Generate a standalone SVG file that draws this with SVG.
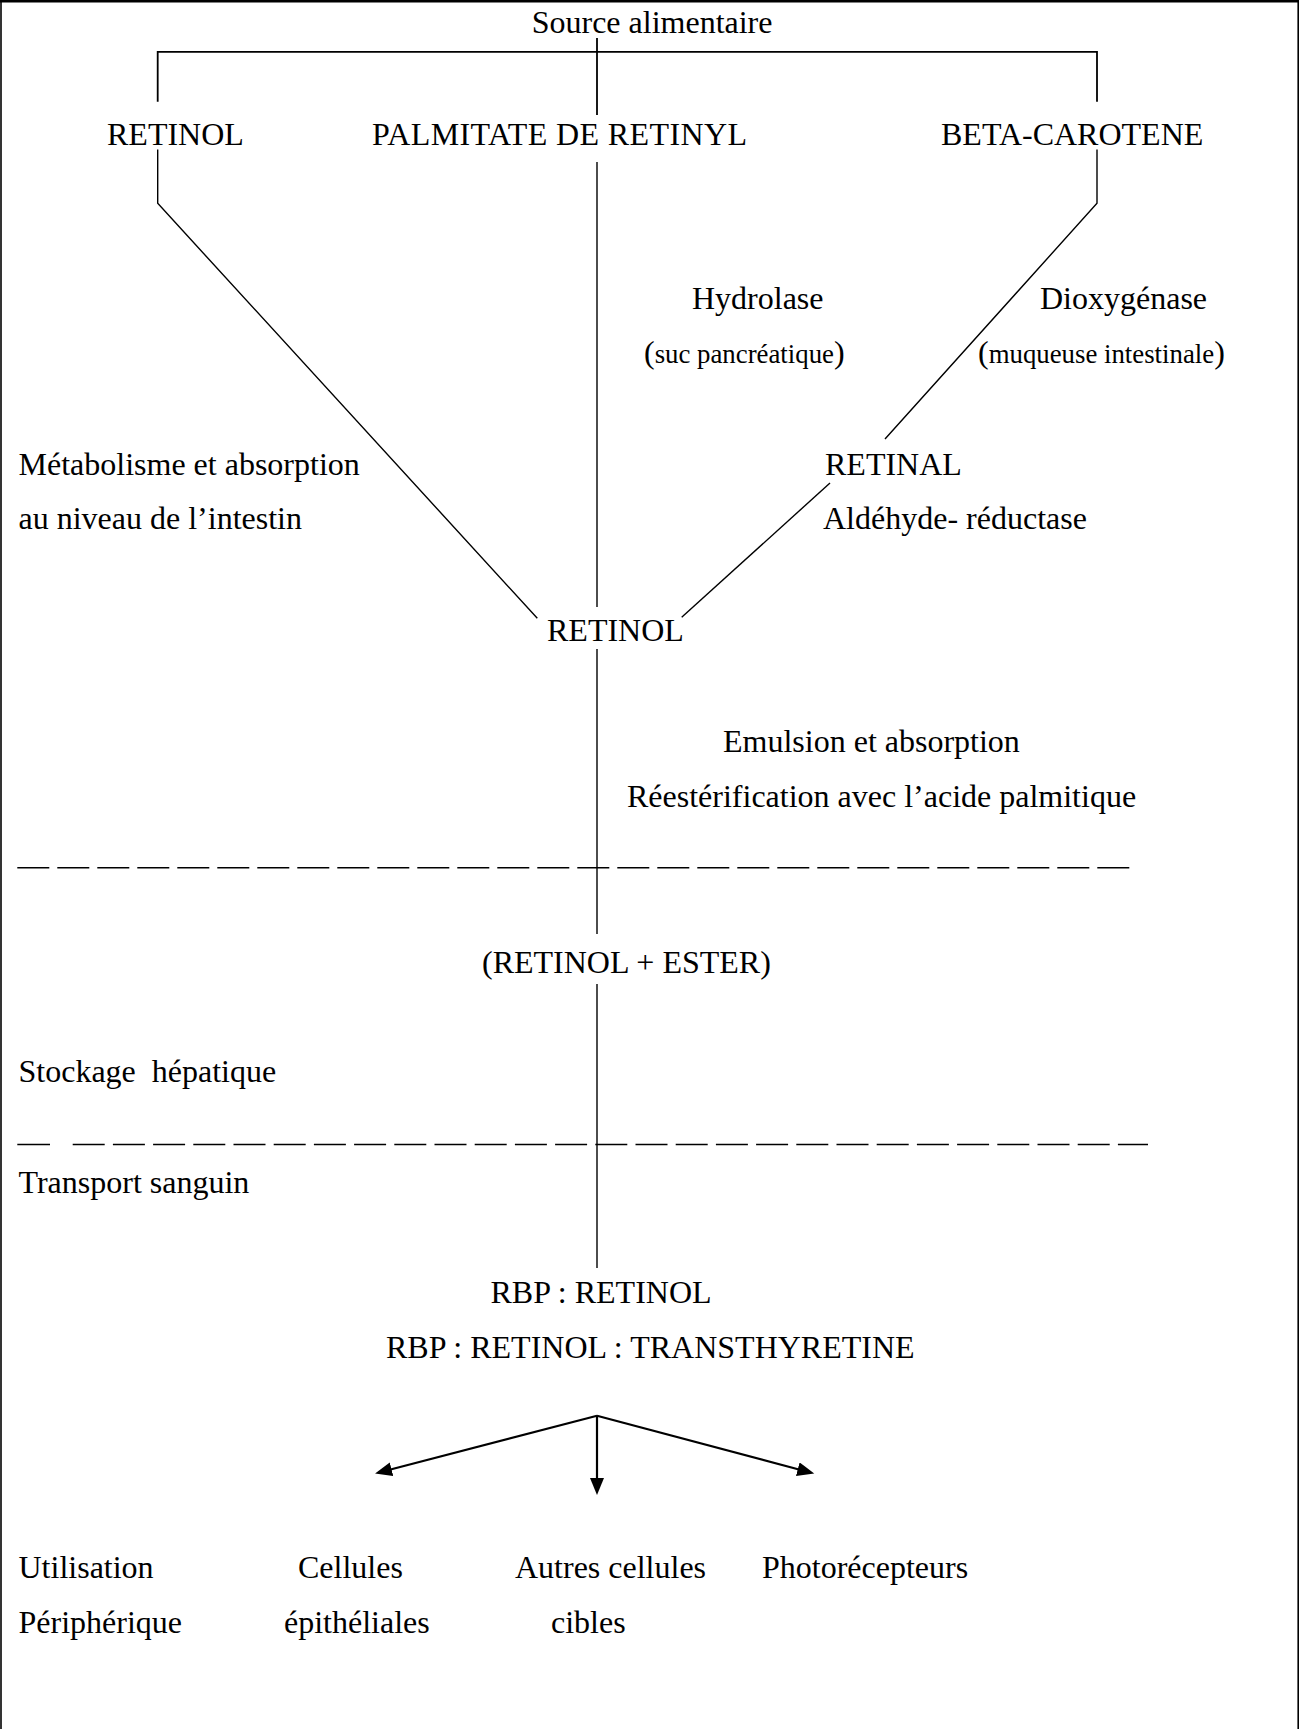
<svg xmlns="http://www.w3.org/2000/svg" width="1299" height="1729" viewBox="0 0 1299 1729">
<defs>
<style>
text{font-family:"Liberation Serif","Times New Roman",serif;font-size:32px;fill:#000;white-space:pre}
.sm{font-size:26.8px}
.ln{stroke:#000;stroke-width:1.4;fill:none}
.br{stroke:#000;stroke-width:1.8;fill:none}
.ds{stroke:#000;stroke-width:1.4;fill:none}
.ar{stroke:#000;stroke-width:2.2;fill:none}
</style>
<marker id="ah" markerUnits="userSpaceOnUse" markerWidth="19" markerHeight="15" refX="6" refY="7" orient="auto">
<path d="M0,0 L17,7 L0,14 z" fill="#000"/>
</marker>
</defs>
<rect width="1299" height="1729" fill="#fff"/>
<g id="frame">
<line x1="0" y1="1.3" x2="1299" y2="1.3" stroke="#000" stroke-width="2.6"/>
<line x1="1" y1="0" x2="1" y2="1729" stroke="#000" stroke-width="1.6"/>
<line x1="1298.2" y1="0" x2="1298.2" y2="1729" stroke="#000" stroke-width="1.6"/>
</g>
<g id="connectors">
<path class="br" d="M597,38 V115"/>
<path class="br" d="M157.7,101.7 V51.8 H1097 V101.7"/>
<path class="ln" d="M157.7,149.5 V203.3 L537.3,618.3"/>
<path class="ln" d="M597,162 V607"/>
<path class="ln" d="M1097,149.5 V203.3 L885,439"/>
<path class="ln" d="M830,483 L681.7,617.3"/>
<path class="ln" d="M597,649 V934"/>
<path class="ln" d="M597,984 V1268"/>
<line class="ds" x1="17.3" y1="867.7" x2="1130" y2="867.7" stroke-dasharray="32 8"/>
<line class="ds" x1="17.3" y1="1144.5" x2="50" y2="1144.5"/>
<line class="ds" x1="72.7" y1="1144.5" x2="1148" y2="1144.5" stroke-dasharray="32 8.2"/>
<path class="ar" d="M597,1415.7 L385.7,1470.8" marker-end="url(#ah)"/>
<path class="ar" d="M597,1415.7 V1484" marker-end="url(#ah)"/>
<path class="ar" d="M597,1415.7 L803.6,1470.7" marker-end="url(#ah)"/>
</g>
<g id="source"><text x="531.7" y="33.3">Source alimentaire</text></g>
<g id="retinol-diet"><text x="107" y="145">RETINOL</text></g>
<g id="palmitate"><text x="372" y="145" textLength="375" lengthAdjust="spacing">PALMITATE DE RETINYL</text></g>
<g id="beta-carotene"><text x="941" y="145">BETA-CAROTENE</text></g>
<g id="hydrolase"><text x="692" y="309">Hydrolase</text><text x="644" y="363">(<tspan class="sm">suc pancréatique</tspan>)</text></g>
<g id="dioxygenase"><text x="1040" y="309">Dioxygénase</text><text x="978" y="363">(<tspan class="sm">muqueuse intestinale</tspan>)</text></g>
<g id="metabolisme"><text x="18.5" y="475">Métabolisme et absorption</text><text x="18.5" y="529">au niveau de l’intestin</text></g>
<g id="retinal"><text x="825" y="475">RETINAL</text><text x="823" y="529">Aldéhyde- réductase</text></g>
<g id="retinol"><text x="547" y="640.7">RETINOL</text></g>
<g id="emulsion"><text x="723" y="751.5">Emulsion et absorption</text><text x="627" y="806.5">Réestérification avec l’acide palmitique</text></g>
<g id="retinol-ester"><text x="482" y="973">(RETINOL + ESTER)</text></g>
<g id="stockage"><text x="18.5" y="1082">Stockage  hépatique</text></g>
<g id="transport"><text x="18.5" y="1193">Transport sanguin</text></g>
<g id="rbp"><text x="490.5" y="1303">RBP : RETINOL</text><text x="386" y="1358">RBP : RETINOL : TRANSTHYRETINE</text></g>
<g id="utilisation"><text x="18.5" y="1578">Utilisation</text><text x="18.5" y="1633">Périphérique</text></g>
<g id="cellules"><text x="298" y="1578">Cellules</text><text x="284" y="1633">épithéliales</text></g>
<g id="autres"><text x="515" y="1578">Autres cellules</text><text x="551" y="1633">cibles</text></g>
<g id="photorecepteurs"><text x="762" y="1578">Photorécepteurs</text></g>
</svg>
